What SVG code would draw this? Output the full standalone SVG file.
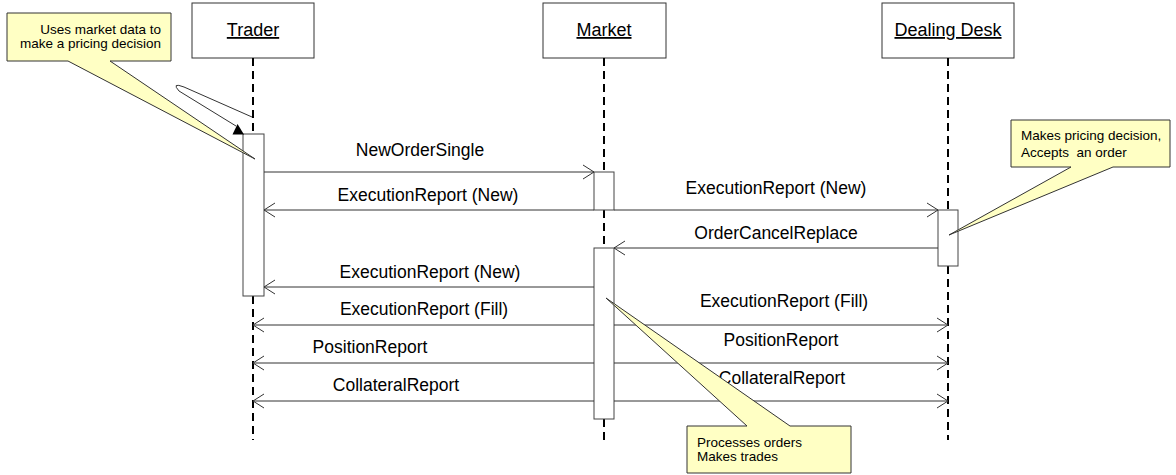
<svg xmlns="http://www.w3.org/2000/svg" width="1176" height="475" viewBox="0 0 1176 475">
<style>
.hdr{fill:#fff;stroke:#333;stroke-width:1}
.hdrt{font-family:"Liberation Sans",Arial,sans-serif;font-size:18px;fill:#000;text-anchor:middle;text-decoration:underline}
.life{stroke:#000;stroke-width:2;stroke-dasharray:8 5;fill:none}
.act{fill:#fff;stroke:#444;stroke-width:1}
.msg{stroke:#333;stroke-width:1;fill:none;marker-end:url(#open)}
.lbl{font-family:"Liberation Sans",Arial,sans-serif;font-size:17.5px;fill:#000;text-anchor:middle}
.note{fill:#ffffc4;stroke:#333;stroke-width:1}
.nt{font-family:"Liberation Sans",Arial,sans-serif;font-size:13.5px;fill:#000}
</style>
<defs>
<marker id="open" markerUnits="userSpaceOnUse" markerWidth="24" markerHeight="24" viewBox="-12 -12 24 24" refX="0" refY="0" orient="auto">
<path d="M-11,-7 L0,0 L-11,7" fill="none" stroke="#333" stroke-width="1"/>
</marker>
</defs>
<g id="trader">
<rect class="hdr" x="192" y="3" width="122" height="55"/>
<text class="hdrt" x="253" y="36">Trader</text>
<path class="life" d="M253,58 V134 M253,296 V440"/>
<rect class="act" x="243" y="134" width="21" height="162"/>
</g>
<g id="market">
<rect class="hdr" x="543" y="3" width="123" height="55"/>
<text class="hdrt" x="604" y="36">Market</text>
<path class="life" d="M604,58 V172 M604,210 V248 M604,419 V440"/>
<rect class="act" x="594" y="172" width="20" height="38"/>
<rect class="act" x="594" y="248" width="20" height="171"/>
</g>
<g id="dealing-desk">
<rect class="hdr" x="882" y="3" width="132" height="55"/>
<text class="hdrt" x="948" y="36">Dealing Desk</text>
<path class="life" d="M948,58 V210 M948,266 V440"/>
<rect class="act" x="938" y="210" width="20" height="56"/>
</g>
<g id="connectors">
<path d="M252,117 L184,87 Q171,82 179,91 L236,126" fill="none" stroke="#333" stroke-width="1"/>
<polygon points="237.5,124 232.5,134.5 244,134.5" fill="#000"/>
<line class="msg" x1="264" y1="172" x2="594" y2="172"/>
<line class="msg" x1="594" y1="210" x2="264" y2="210"/>
<line class="msg" x1="614" y1="210" x2="938" y2="210"/>
<line class="msg" x1="938" y1="248" x2="614" y2="248"/>
<line class="msg" x1="594" y1="287" x2="264" y2="287"/>
<line class="msg" x1="594" y1="325" x2="253" y2="325"/>
<line class="msg" x1="614" y1="325" x2="948" y2="325"/>
<line class="msg" x1="594" y1="363" x2="253" y2="363"/>
<line class="msg" x1="614" y1="363" x2="948" y2="363"/>
<line class="msg" x1="594" y1="401" x2="253" y2="401"/>
<line class="msg" x1="614" y1="401" x2="948" y2="401"/>
<text class="lbl" x="420" y="156">NewOrderSingle</text>
<text class="lbl" x="428" y="201">ExecutionReport (New)</text>
<text class="lbl" x="776" y="194">ExecutionReport (New)</text>
<text class="lbl" x="776" y="239">OrderCancelReplace</text>
<text class="lbl" x="430" y="278">ExecutionReport (New)</text>
<text class="lbl" x="424" y="315">ExecutionReport (Fill)</text>
<text class="lbl" x="784" y="307">ExecutionReport (Fill)</text>
<text class="lbl" x="370" y="353">PositionReport</text>
<text class="lbl" x="781" y="346">PositionReport</text>
<text class="lbl" x="396" y="391">CollateralReport</text>
<text class="lbl" x="782" y="384">CollateralReport</text>
</g>
<g id="note-trader">
<path class="note" d="M7,13 H171 V61 H110 L255,159 L68,61 H7 Z"/>
<text class="nt" x="161" y="34" text-anchor="end">Uses market data to</text>
<text class="nt" x="161" y="48" text-anchor="end">make a pricing decision</text>
</g>
<g id="note-dealing">
<path class="note" d="M1011,120 H1170 V167 H1113 L949,235 L1071,167 H1011 Z"/>
<text class="nt" x="1021" y="140">Makes pricing decision,</text>
<text class="nt" x="1021" y="157" xml:space="preserve">Accepts  an order</text>
</g>
<g id="note-market">
<path class="note" d="M687,426 H747 L606,298 L790,426 H851 V473 H687 Z"/>
<text class="nt" x="697" y="447">Processes orders</text>
<text class="nt" x="697" y="461">Makes trades</text>
</g>
</svg>
